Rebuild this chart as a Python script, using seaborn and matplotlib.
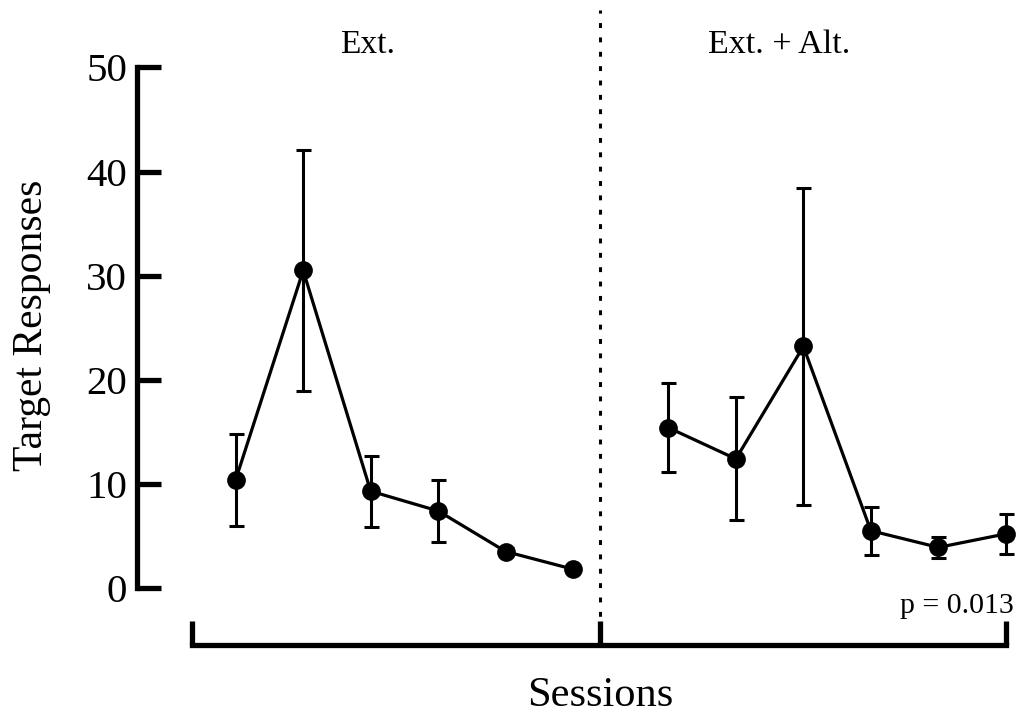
import numpy as np
import pandas as pd
import matplotlib
matplotlib.use("Agg")
import matplotlib.pyplot as plt
import seaborn as sns

# Session means and SEMs for each phase
phases = ["Ext.", "Ext. + Alt."]
sessions = [1, 2, 3, 4, 5, 6]
ext_mean = [10.4, 30.5, 9.3, 7.4, 3.5, 1.8]
ext_sem = [4.4, 11.6, 3.4, 3.0, 0.3, 0.2]
alt_mean = [15.4, 12.4, 23.2, 5.5, 3.9, 5.2]
alt_sem = [4.3, 5.9, 15.25, 2.3, 1.0, 1.9]
y_ticks = [0, 10, 20, 30, 40, 50]
p_text = "p = 0.013"

# Second phase is drawn after a gap along the session axis
phase_offset = [0.0, 6.41]
divider_x = 6.40
bracket = [0.35, 6.40, 12.41]

df = pd.DataFrame({
    "phase": np.repeat(phases, len(sessions)),
    "x": np.concatenate([np.array(sessions) + phase_offset[0],
                         np.array(sessions) + phase_offset[1]]),
    "mean": ext_mean + alt_mean,
    "sem": ext_sem + alt_sem,
})

sns.set_style("ticks")
plt.rcParams["font.family"] = ["Liberation Serif", "DejaVu Serif"]
plt.rcParams["text.color"] = "black"
plt.rcParams["axes.labelcolor"] = "black"
plt.rcParams["axes.edgecolor"] = "black"
plt.rcParams["xtick.color"] = "black"
plt.rcParams["ytick.color"] = "black"

fig = plt.figure(figsize=(10.19, 7.14), dpi=100)
ax = fig.add_axes([137 / 1019, 69 / 714, 878 / 1019, 635 / 714])

ax.errorbar(df["x"], df["mean"], yerr=df["sem"], fmt="none", ecolor="black",
            elinewidth=2.2, capsize=5.4, capthick=2.2, zorder=2)
sns.lineplot(data=df, x="x", y="mean", hue="phase", palette=["black", "black"],
             estimator=None, marker="o", markersize=13.5, markeredgewidth=0,
             linewidth=2.3, legend=False, ax=ax, zorder=3)

ax.axvline(divider_x, ymin=0, ymax=1, color="black", lw=2.2,
           linestyle=(0, (1.6, 3.1)), zorder=1)

ax.set_xlim(-0.462, 12.545)
ax.set_ylim(-5.476, 55.52)

for s in ["top", "right"]:
    ax.spines[s].set_visible(False)
ax.spines["left"].set_linewidth(3.8)
ax.spines["bottom"].set_linewidth(3.8)
ax.spines["left"].set_bounds(0, 50)
ax.spines["bottom"].set_bounds(bracket[0], bracket[-1])
ax.spines["left"].set_capstyle("projecting")
ax.spines["bottom"].set_capstyle("projecting")

ax.set_yticks(y_ticks)
ax.set_yticklabels([str(t) for t in y_ticks])
ax.tick_params(axis="y", direction="in", length=17.5, width=3.8,
               labelsize=29.5, pad=7)
ax.set_xticks(bracket)
ax.set_xticklabels([])
ax.tick_params(axis="x", direction="in", length=17, width=3.8)

ax.set_xlabel("Sessions", fontsize=30.5)
ax.xaxis.set_label_coords((600 - 137) / 878, -0.05)
ax.xaxis.label.set_va("top")
ax.set_ylabel("Target Responses", fontsize=30)
ax.yaxis.set_label_coords(-(137 - 32) / 878, (645 - 325) / 635)
ax.yaxis.label.set_va("center")

ax.text(2.96, 52.2, phases[0], ha="center", va="center", fontsize=24)
ax.text(9.05, 52.2, phases[1], ha="center", va="center", fontsize=24.5)
ax.text(12.53, -2.4, p_text, ha="right", va="baseline", fontsize=21.5)

fig.savefig("out.png", dpi=100)
